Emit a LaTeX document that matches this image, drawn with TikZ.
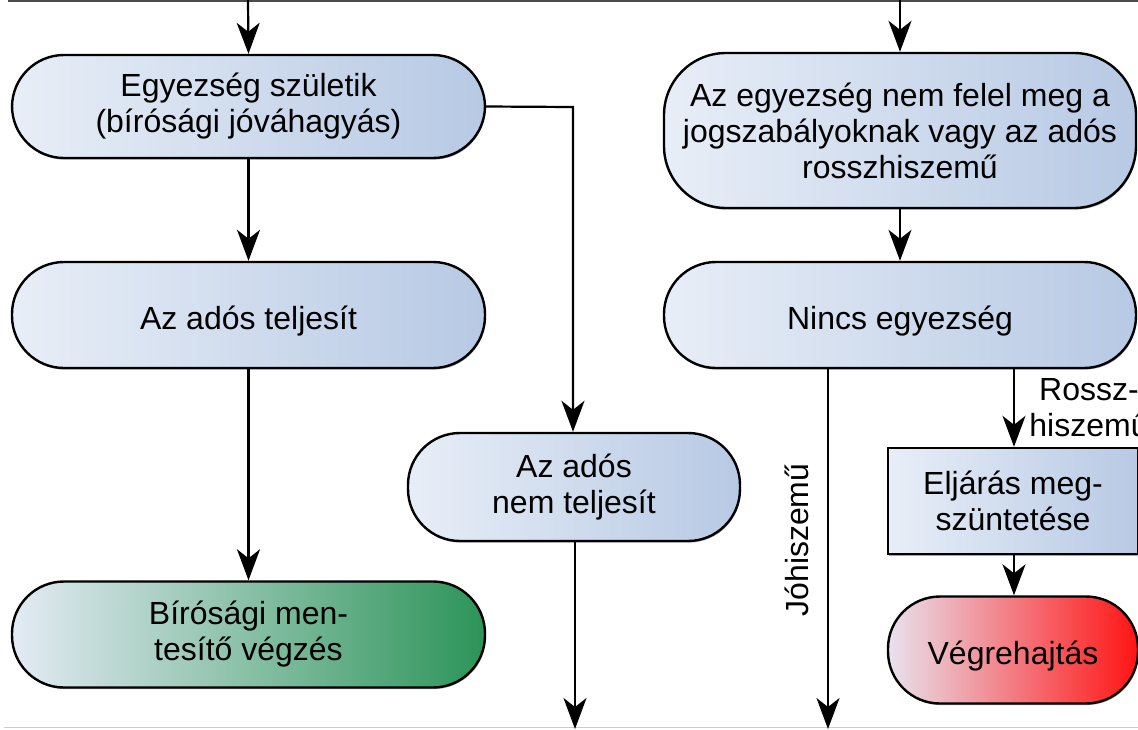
\documentclass[tikz,border=0pt]{standalone}
\usepackage{fontspec}
\setmainfont{Liberation Sans}
\usetikzlibrary{arrows.meta,shadows}
\definecolor{bl}{RGB}{232,238,247}
\definecolor{br}{RGB}{183,201,228}
\definecolor{gl}{RGB}{228,235,245}
\definecolor{gr}{RGB}{44,148,88}
\definecolor{rl}{RGB}{232,226,238}
\definecolor{rr}{RGB}{255,20,20}
\begin{document}
\begin{tikzpicture}[x=1pt,y=-1pt,
  txt/.style={font=\fontsize{32}{36}\selectfont, align=center},
  box/.style={txt, draw=black, line width=2.4pt, rounded corners=52pt,
    left color=bl, right color=br, inner sep=0pt,
    drop shadow={shadow xshift=0.8pt, shadow yshift=-1.6pt, fill=black, opacity=0.35}},
  one/.style={text height=36pt, text depth=7pt},
  sqbox/.style={box, rounded corners=0pt},
  green/.style={left color=gl, right color=gr},
  red/.style={left color=rl, right color=rr},
  arr/.style={line width=2.2pt, -{Stealth[length=31pt,width=23pt,inset=9pt]}}]
\useasboundingbox (0,0) rectangle (1138,729);
\draw[line width=2pt, black!70] (8,1) -- (1138,1);
\draw[line width=1.5pt, black!20] (4,727.5) -- (1138,727.5);

\node[box, minimum width=473pt, minimum height=103pt] (a) at (248.5,106.5)
  {Egyezség születik\\(bírósági jóváhagyás)};
\node[box, one, minimum width=473pt, minimum height=106pt] (b) at (248.5,315)
  {Az adós teljesít};
\node[box, green, minimum width=473pt, minimum height=106pt] (c) at (248.5,634.5)
  {Bírósági men-\\tesítő végzés};
\node[box, minimum width=332pt, minimum height=108pt] (d) at (574,487)
  {Az adós\\nem teljesít};
\node[box, rounded corners=62pt, minimum width=472pt, minimum height=155pt] (e) at (900,130.5)
  {Az egyezség nem felel meg a\\jogszabályoknak vagy az adós\\rosszhiszemű};
\node[box, one, minimum width=472pt, minimum height=106pt] (f) at (900,315)
  {Nincs egyezség};
\node[sqbox, minimum width=250pt, minimum height=106pt] (g) at (1013,501)
  {Eljárás meg-\\szüntetése};
\node[box, one, red, minimum width=250pt, minimum height=107pt] (h) at (1013,650)
  {Végrehajtás};

\coordinate (t1) at (248,0);
\coordinate (t2) at (900,0);
\coordinate (b1) at (575,729);
\coordinate (b2) at (828,729);
\coordinate (k) at (573,107);
\coordinate (fj) at (828,368);
\coordinate (fr) at (1014,368);

\draw[arr] (t1) -- (a.north);
\draw[arr] (t2) -- (e.north);
\draw[arr] (a.south) -- (b.north);
\draw[arr] (b.south) -- (c.north);
\draw[arr] (a.east) -- (k) -- (d.north -| k);
\draw[arr] (e.south) -- (f.north);
\draw[arr] (d.south -| b1) -- (b1);
\draw[arr] (fj) -- (b2);
\draw[arr] (fr) -- (g.north -| fr);
\draw[arr] (g.south -| fr) -- (h.north -| fr);

\node[txt, rotate=90] (jo) at (797,540) {Jóhiszemű};
\node[txt] (ro) at (1089,408) {Rossz-\\hiszemű};
\end{tikzpicture}
\end{document}
